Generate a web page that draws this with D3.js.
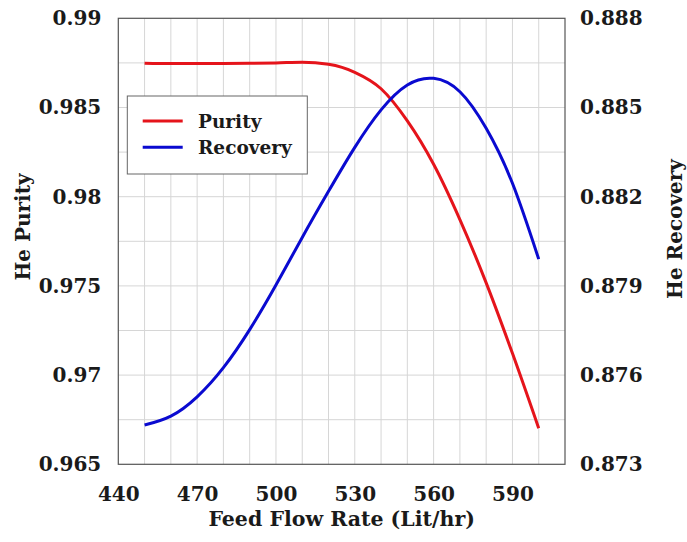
<!DOCTYPE html>
<html>
<head>
<meta charset="utf-8">
<script src="https://cdn.jsdelivr.net/npm/d3@7"></script>
<style>
  html, body { margin: 0; padding: 0; background: #fff; }
  svg { display: block; }
  text { font-family: "DejaVu Serif", "Liberation Serif", serif; font-weight: bold; fill: #1a1a1a; }
</style>
</head>
<body>
<svg id="chart" width="687" height="542"></svg>
<script>
// Feed flow rate (Lit/hr) and the two process responses
const flowRates = [450, 460, 470, 480, 490, 500, 510, 520, 530, 540, 550, 560, 570, 580, 590, 600];
const purity = [0.98748, 0.98746, 0.98746, 0.98747, 0.98748, 0.98750, 0.98754, 0.98742, 0.98697, 0.98605, 0.98425, 0.98182, 0.97872, 0.97517, 0.97122, 0.96702];
const recovery = [0.87432, 0.87462, 0.87527, 0.87625, 0.87753, 0.87903, 0.88063, 0.88218, 0.88366, 0.88492, 0.88576, 0.88598, 0.88553, 0.88430, 0.88245, 0.87990];

const xTicks = [440, 470, 500, 530, 560, 590];
const purityTicks = [0.965, 0.97, 0.975, 0.98, 0.985, 0.99];
const recoveryTicks = [0.873, 0.876, 0.879, 0.882, 0.885, 0.888];
const seriesNames = ["Purity", "Recovery"];
const seriesColors = ["#e5141b", "#0a0ad0"];

const svg = d3.select("#chart");
const plotLeft = 118.3, plotRight = 565, plotTop = 18.3, plotBottom = 464.3;

const x = d3.scaleLinear().domain([440, 610]).range([plotLeft, plotRight]);
const yL = d3.scaleLinear().domain([0.965, 0.99]).range([plotBottom, plotTop]);
const yR = d3.scaleLinear().domain([0.873, 0.888]).range([plotBottom, plotTop]);

// grid
const grid = svg.append("g").attr("stroke", "#d6d6d6").attr("stroke-width", 1);
d3.range(450, 610, 10).forEach(v => {
  grid.append("line").attr("x1", x(v)).attr("x2", x(v)).attr("y1", plotTop).attr("y2", plotBottom);
});
d3.range(1, 10).forEach(i => {
  const v = 0.965 + i * 0.0025;
  grid.append("line").attr("x1", plotLeft).attr("x2", plotRight).attr("y1", yL(v)).attr("y2", yL(v));
});

// axes
const fontSize = "20px";
const xAxis = svg.append("g").attr("transform", `translate(0,${plotBottom})`)
  .call(d3.axisBottom(x).tickValues(xTicks).tickSize(0).tickPadding(23).tickFormat(d3.format("d")));
const yAxisL = svg.append("g").attr("transform", `translate(${plotLeft},0)`)
  .call(d3.axisLeft(yL).tickValues(purityTicks).tickSize(0).tickPadding(17).tickFormat(d => String(+d.toFixed(3))));
const yAxisR = svg.append("g").attr("transform", `translate(${plotRight},0)`)
  .call(d3.axisRight(yR).tickValues(recoveryTicks).tickSize(0).tickPadding(15).tickFormat(d3.format(".3f")));
[xAxis, yAxisL, yAxisR].forEach(a => {
  a.select(".domain").remove();
  a.selectAll("text").attr("font-family", null).attr("font-size", fontSize).style("font-size", fontSize);
});

// frame
svg.append("rect").attr("x", plotLeft).attr("y", plotTop)
  .attr("width", plotRight - plotLeft).attr("height", plotBottom - plotTop)
  .attr("fill", "none").attr("stroke", "#555").attr("stroke-width", 1.2);

// curves
const rows = flowRates.map((f, i) => ({ f, p: purity[i], r: recovery[i] }));
const lineP = d3.line().x(d => x(d.f)).y(d => yL(d.p)).curve(d3.curveMonotoneX);
const lineR = d3.line().x(d => x(d.f)).y(d => yR(d.r)).curve(d3.curveNatural);
svg.append("path").datum(rows).attr("d", lineP).attr("fill", "none")
  .attr("stroke", seriesColors[0]).attr("stroke-width", 3);
svg.append("path").datum(rows).attr("d", lineR).attr("fill", "none")
  .attr("stroke", seriesColors[1]).attr("stroke-width", 3);

// legend
const lg = svg.append("g");
lg.append("rect").attr("x", 127.3).attr("y", 96).attr("width", 180).attr("height", 78)
  .attr("fill", "#fff").attr("stroke", "#666").attr("stroke-width", 1);
seriesNames.forEach((name, i) => {
  const cy = 121 + i * 26.3;
  lg.append("line").attr("x1", 142.7).attr("x2", 182.7).attr("y1", cy).attr("y2", cy)
    .attr("stroke", seriesColors[i]).attr("stroke-width", 3);
  lg.append("text").attr("x", 198).attr("y", cy + 6.5).attr("font-size", "18.5px").text(name);
});

// axis titles
svg.append("text").attr("x", (plotLeft + plotRight) / 2).attr("y", 526).attr("text-anchor", "middle")
  .attr("font-size", "20.5px").text("Feed Flow Rate (Lit/hr)");
svg.append("text").attr("transform", "translate(30,227) rotate(-90)").attr("text-anchor", "middle")
  .attr("font-size", "20px").text("He Purity");
svg.append("text").attr("transform", "translate(682,229) rotate(-90)").attr("text-anchor", "middle")
  .attr("font-size", "20px").text("He Recovery");
</script>
</body>
</html>
